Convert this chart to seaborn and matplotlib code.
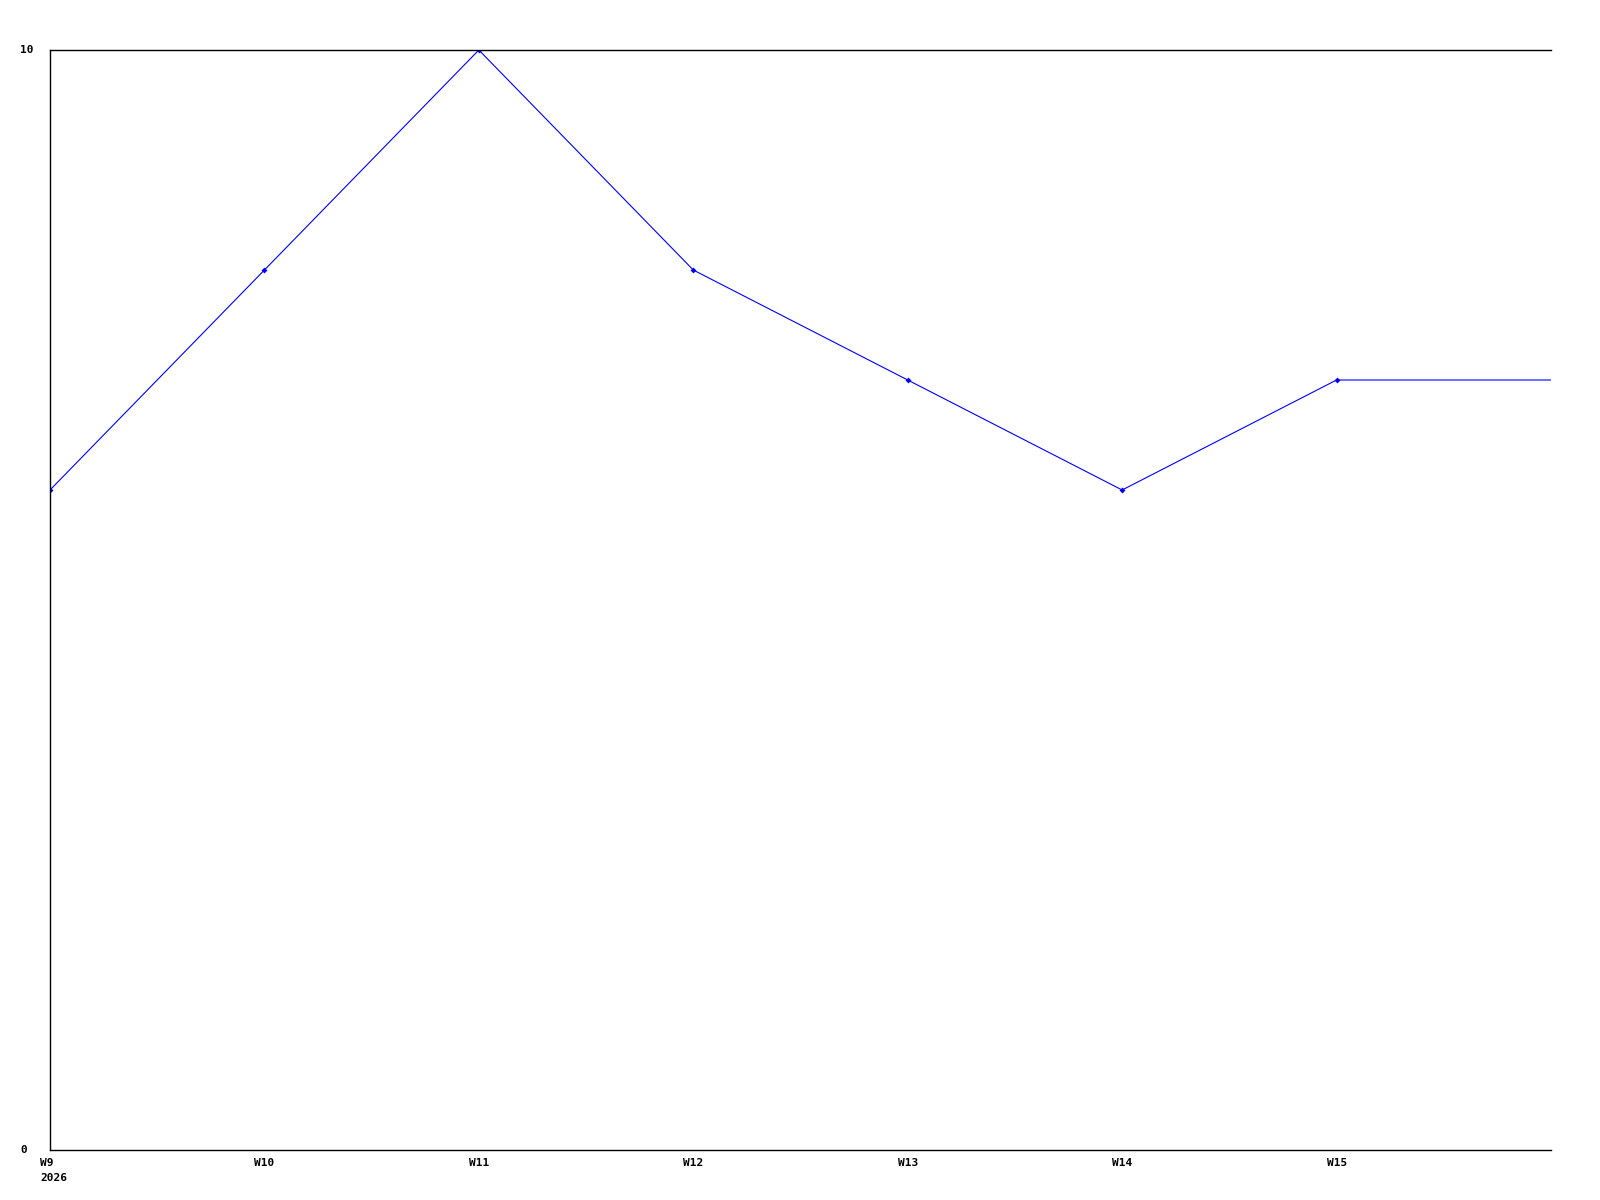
import numpy as np
import pandas as pd
import seaborn as sns
import matplotlib
matplotlib.use('Agg')
import matplotlib.pyplot as plt
from matplotlib.transforms import ScaledTranslation

weeks = ['W9', 'W10', 'W11', 'W12', 'W13', 'W14', 'W15', 'W16']
values = [6, 8, 10, 8, 7, 6, 7, 7]
tick_labels = ['W9\n2026', 'W10', 'W11', 'W12', 'W13', 'W14', 'W15']
y_ticks = [0, 10]

sns.set_style('white')
plt.rcParams['font.family'] = ['DejaVu Sans Mono', 'DejaVu Sans']

df = pd.DataFrame({'x': np.arange(len(weeks)), 'y': values})

fig = plt.figure(figsize=(16, 12), dpi=100)
ax = fig.add_axes([50 / 1600, 50 / 1200, 1501 / 1600, 1100 / 1200])

sns.lineplot(x='x', y='y', data=df, ax=ax, color='#0000ff', linewidth=0.8,
             marker='D', markersize=3, markeredgewidth=0,
             markevery=list(range(len(tick_labels))))

ax.set_xlim(0, len(weeks) - 1)
ax.set_ylim(0, 10)
ax.set_xlabel('')
ax.set_ylabel('')

ax.set_xticks(range(len(tick_labels)))
ax.set_xticklabels(tick_labels, ha='left', va='top', fontsize=8,
                   fontweight='bold', linespacing=1.55, color='black')
ax.set_yticks(y_ticks)
ax.set_yticklabels([str(v) for v in y_ticks], ha='left', va='center',
                   fontsize=8, fontweight='bold', color='black')
ax.tick_params(axis='x', length=0, pad=6)
ax.tick_params(axis='y', length=0, pad=21.6)

shift = ScaledTranslation(-10 / 100, 0, fig.dpi_scale_trans)
for lbl in ax.get_xticklabels():
    lbl.set_transform(lbl.get_transform() + shift)

for side in ['left', 'top', 'bottom']:
    ax.spines[side].set_color('black')
    ax.spines[side].set_linewidth(1)
ax.spines['right'].set_visible(False)

fig.savefig('out.png', dpi=100, facecolor='white')
